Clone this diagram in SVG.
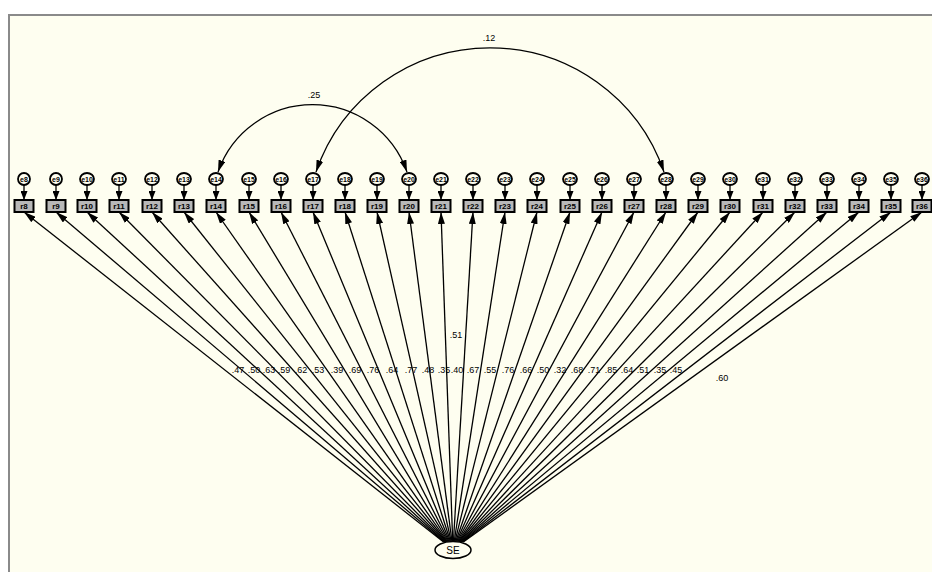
<svg xmlns="http://www.w3.org/2000/svg" width="932" height="572" viewBox="0 0 932 572">
<style>
.bg{fill:#fefef0}
.frame{stroke:#8a8a8a;stroke-width:2;fill:none}
.path{stroke:#000;stroke-width:1.3;fill:none}
.err{fill:#fefef0;stroke:#000;stroke-width:1.8}
.box{fill:#b8b8b8;stroke:#000;stroke-width:2}
.lat{fill:#fefef0;stroke:#000;stroke-width:1.5}
.t{font-family:"Liberation Sans",Arial,sans-serif;fill:#000;text-anchor:middle}
.bl{font-size:8px;font-weight:bold}
.el{font-size:7px;font-weight:bold}
.lb{font-size:9px}
</style>
<defs>
<marker id="ah" viewBox="0 0 12 7" refX="12" refY="3.5" markerWidth="12" markerHeight="7" markerUnits="userSpaceOnUse" orient="auto-start-reverse">
<path d="M0,0 L12,3.5 L0,7 z" fill="#000"/>
</marker>
<marker id="ahs" viewBox="0 0 9 7" refX="9" refY="3.5" markerWidth="9" markerHeight="7" markerUnits="userSpaceOnUse" orient="auto">
<path d="M0,0 L9,3.5 L0,7 z" fill="#000"/>
</marker>
</defs>
<rect x="0" y="0" width="932" height="572" fill="#ffffff"/>
<rect class="bg" x="9" y="15" width="923" height="557"/>
<path class="frame" d="M9,572 V15 H932"/>

<g id="connectors">
<path class="path" marker-end="url(#ah)" d="M443.6,542 L24,212"/>
<path class="path" marker-end="url(#ah)" d="M444.2,542 L56,212"/>
<path class="path" marker-end="url(#ah)" d="M444.9,542 L87,212"/>
<path class="path" marker-end="url(#ah)" d="M445.6,542 L119,212"/>
<path class="path" marker-end="url(#ah)" d="M446.4,542 L152,212"/>
<path class="path" marker-end="url(#ah)" d="M447.1,542 L184,212"/>
<path class="path" marker-end="url(#ah)" d="M447.8,542 L216,212"/>
<path class="path" marker-end="url(#ah)" d="M448.5,542 L249,212"/>
<path class="path" marker-end="url(#ah)" d="M449.2,542 L281,212"/>
<path class="path" marker-end="url(#ah)" d="M449.9,542 L313,212"/>
<path class="path" marker-end="url(#ah)" d="M450.6,542 L345,212"/>
<path class="path" marker-end="url(#ah)" d="M451.3,542 L377,212"/>
<path class="path" marker-end="url(#ah)" d="M452.0,542 L409,212"/>
<path class="path" marker-end="url(#ah)" d="M452.7,542 L441,212"/>
<path class="path" marker-end="url(#ah)" d="M453.4,542 L473,212"/>
<path class="path" marker-end="url(#ah)" d="M454.1,542 L505,212"/>
<path class="path" marker-end="url(#ah)" d="M454.8,542 L537,212"/>
<path class="path" marker-end="url(#ah)" d="M455.6,542 L570,212"/>
<path class="path" marker-end="url(#ah)" d="M456.3,542 L602,212"/>
<path class="path" marker-end="url(#ah)" d="M457.0,542 L634,212"/>
<path class="path" marker-end="url(#ah)" d="M457.7,542 L666,212"/>
<path class="path" marker-end="url(#ah)" d="M458.4,542 L698,212"/>
<path class="path" marker-end="url(#ah)" d="M459.1,542 L730,212"/>
<path class="path" marker-end="url(#ah)" d="M459.9,542 L763,212"/>
<path class="path" marker-end="url(#ah)" d="M460.6,542 L795,212"/>
<path class="path" marker-end="url(#ah)" d="M461.3,542 L827,212"/>
<path class="path" marker-end="url(#ah)" d="M462.0,542 L859,212"/>
<path class="path" marker-end="url(#ah)" d="M462.7,542 L891,212"/>
<path class="path" marker-end="url(#ah)" d="M463.3,542 L922,212"/>
<g class="path" marker-end="url(#ahs)" stroke-width="2.2">
<path d="M24,185 V200"/><path d="M56,185 V200"/><path d="M87,185 V200"/><path d="M119,185 V200"/>
<path d="M152,185 V200"/><path d="M184,185 V200"/><path d="M216,185 V200"/><path d="M249,185 V200"/>
<path d="M281,185 V200"/><path d="M313,185 V200"/><path d="M345,185 V200"/><path d="M377,185 V200"/>
<path d="M409,185 V200"/><path d="M441,185 V200"/><path d="M473,185 V200"/><path d="M505,185 V200"/>
<path d="M537,185 V200"/><path d="M570,185 V200"/><path d="M602,185 V200"/><path d="M634,185 V200"/>
<path d="M666,185 V200"/><path d="M698,185 V200"/><path d="M730,185 V200"/><path d="M763,185 V200"/>
<path d="M795,185 V200"/><path d="M827,185 V200"/><path d="M859,185 V200"/><path d="M891,185 V200"/>
<path d="M922,185 V200"/>
</g>
<path class="path" marker-start="url(#ah)" marker-end="url(#ah)" d="M218,172 A100,100 0 0 1 407,172"/>
<path class="path" marker-start="url(#ah)" marker-end="url(#ah)" d="M316,172 A184,184 0 0 1 664,172"/>
<text class="t lb" x="314" y="98">.25</text>
<text class="t lb" x="489" y="41">.12</text>
<g class="t lb">
<text x="238" y="373">.47</text><text x="254" y="373">.50</text><text x="269" y="373">.63</text>
<text x="284" y="373">.59</text><text x="301" y="373">.62</text><text x="318" y="373">.53</text>
<text x="337" y="373">.39</text><text x="355" y="373">.69</text><text x="373" y="373">.76</text>
<text x="392" y="373">.64</text><text x="411" y="373">.77</text><text x="428" y="373">.48</text>
<text x="444" y="373">.35</text><text x="457" y="373">.40</text><text x="473" y="373">.67</text>
<text x="490" y="373">.55</text><text x="508" y="373">.76</text><text x="526" y="373">.66</text>
<text x="543" y="373">.50</text><text x="560" y="373">.32</text><text x="577" y="373">.68</text>
<text x="594" y="373">.71</text><text x="611" y="373">.85</text><text x="627" y="373">.64</text>
<text x="643" y="373">.51</text><text x="660" y="373">.35</text><text x="676" y="373">.45</text>
<text x="456" y="338">.51</text>
<text x="722" y="381">.60</text>
</g>
</g>

<g id="SE"><ellipse class="lat" cx="453" cy="550" rx="18" ry="8.5"/><text class="t" font-size="10" x="453" y="554">SE</text></g>

<g id="n8"><ellipse class="err" cx="24" cy="179" rx="6" ry="6"/><text class="t el" x="24" y="181.5">e8</text><rect class="box" x="14.5" y="200" width="19" height="12"/><text class="t bl" x="24" y="209">r8</text></g>
<g id="n9"><ellipse class="err" cx="56" cy="179" rx="6" ry="6"/><text class="t el" x="56" y="181.5">e9</text><rect class="box" x="46.5" y="200" width="19" height="12"/><text class="t bl" x="56" y="209">r9</text></g>
<g id="n10"><ellipse class="err" cx="87" cy="179" rx="7" ry="6"/><text class="t el" x="87" y="181.5">e10</text><rect class="box" x="77.5" y="200" width="19" height="12"/><text class="t bl" x="87" y="209">r10</text></g>
<g id="n11"><ellipse class="err" cx="119" cy="179" rx="7" ry="6"/><text class="t el" x="119" y="181.5">e11</text><rect class="box" x="109.5" y="200" width="19" height="12"/><text class="t bl" x="119" y="209">r11</text></g>
<g id="n12"><ellipse class="err" cx="152" cy="179" rx="7" ry="6"/><text class="t el" x="152" y="181.5">e12</text><rect class="box" x="142.5" y="200" width="19" height="12"/><text class="t bl" x="152" y="209">r12</text></g>
<g id="n13"><ellipse class="err" cx="184" cy="179" rx="7" ry="6"/><text class="t el" x="184" y="181.5">e13</text><rect class="box" x="174.5" y="200" width="19" height="12"/><text class="t bl" x="184" y="209">r13</text></g>
<g id="n14"><ellipse class="err" cx="216" cy="179" rx="7" ry="6"/><text class="t el" x="216" y="181.5">e14</text><rect class="box" x="206.5" y="200" width="19" height="12"/><text class="t bl" x="216" y="209">r14</text></g>
<g id="n15"><ellipse class="err" cx="249" cy="179" rx="7" ry="6"/><text class="t el" x="249" y="181.5">e15</text><rect class="box" x="239.5" y="200" width="19" height="12"/><text class="t bl" x="249" y="209">r15</text></g>
<g id="n16"><ellipse class="err" cx="281" cy="179" rx="7" ry="6"/><text class="t el" x="281" y="181.5">e16</text><rect class="box" x="271.5" y="200" width="19" height="12"/><text class="t bl" x="281" y="209">r16</text></g>
<g id="n17"><ellipse class="err" cx="313" cy="179" rx="7" ry="6"/><text class="t el" x="313" y="181.5">e17</text><rect class="box" x="303.5" y="200" width="19" height="12"/><text class="t bl" x="313" y="209">r17</text></g>
<g id="n18"><ellipse class="err" cx="345" cy="179" rx="7" ry="6"/><text class="t el" x="345" y="181.5">e18</text><rect class="box" x="335.5" y="200" width="19" height="12"/><text class="t bl" x="345" y="209">r18</text></g>
<g id="n19"><ellipse class="err" cx="377" cy="179" rx="7" ry="6"/><text class="t el" x="377" y="181.5">e19</text><rect class="box" x="367.5" y="200" width="19" height="12"/><text class="t bl" x="377" y="209">r19</text></g>
<g id="n20"><ellipse class="err" cx="409" cy="179" rx="7" ry="6"/><text class="t el" x="409" y="181.5">e20</text><rect class="box" x="399.5" y="200" width="19" height="12"/><text class="t bl" x="409" y="209">r20</text></g>
<g id="n21"><ellipse class="err" cx="441" cy="179" rx="7" ry="6"/><text class="t el" x="441" y="181.5">e21</text><rect class="box" x="431.5" y="200" width="19" height="12"/><text class="t bl" x="441" y="209">r21</text></g>
<g id="n22"><ellipse class="err" cx="473" cy="179" rx="7" ry="6"/><text class="t el" x="473" y="181.5">e22</text><rect class="box" x="463.5" y="200" width="19" height="12"/><text class="t bl" x="473" y="209">r22</text></g>
<g id="n23"><ellipse class="err" cx="505" cy="179" rx="7" ry="6"/><text class="t el" x="505" y="181.5">e23</text><rect class="box" x="495.5" y="200" width="19" height="12"/><text class="t bl" x="505" y="209">r23</text></g>
<g id="n24"><ellipse class="err" cx="537" cy="179" rx="7" ry="6"/><text class="t el" x="537" y="181.5">e24</text><rect class="box" x="527.5" y="200" width="19" height="12"/><text class="t bl" x="537" y="209">r24</text></g>
<g id="n25"><ellipse class="err" cx="570" cy="179" rx="7" ry="6"/><text class="t el" x="570" y="181.5">e25</text><rect class="box" x="560.5" y="200" width="19" height="12"/><text class="t bl" x="570" y="209">r25</text></g>
<g id="n26"><ellipse class="err" cx="602" cy="179" rx="7" ry="6"/><text class="t el" x="602" y="181.5">e26</text><rect class="box" x="592.5" y="200" width="19" height="12"/><text class="t bl" x="602" y="209">r26</text></g>
<g id="n27"><ellipse class="err" cx="634" cy="179" rx="7" ry="6"/><text class="t el" x="634" y="181.5">e27</text><rect class="box" x="624.5" y="200" width="19" height="12"/><text class="t bl" x="634" y="209">r27</text></g>
<g id="n28"><ellipse class="err" cx="666" cy="179" rx="7" ry="6"/><text class="t el" x="666" y="181.5">e28</text><rect class="box" x="656.5" y="200" width="19" height="12"/><text class="t bl" x="666" y="209">r28</text></g>
<g id="n29"><ellipse class="err" cx="698" cy="179" rx="7" ry="6"/><text class="t el" x="698" y="181.5">e29</text><rect class="box" x="688.5" y="200" width="19" height="12"/><text class="t bl" x="698" y="209">r29</text></g>
<g id="n30"><ellipse class="err" cx="730" cy="179" rx="7" ry="6"/><text class="t el" x="730" y="181.5">e30</text><rect class="box" x="720.5" y="200" width="19" height="12"/><text class="t bl" x="730" y="209">r30</text></g>
<g id="n31"><ellipse class="err" cx="763" cy="179" rx="7" ry="6"/><text class="t el" x="763" y="181.5">e31</text><rect class="box" x="753.5" y="200" width="19" height="12"/><text class="t bl" x="763" y="209">r31</text></g>
<g id="n32"><ellipse class="err" cx="795" cy="179" rx="7" ry="6"/><text class="t el" x="795" y="181.5">e32</text><rect class="box" x="785.5" y="200" width="19" height="12"/><text class="t bl" x="795" y="209">r32</text></g>
<g id="n33"><ellipse class="err" cx="827" cy="179" rx="7" ry="6"/><text class="t el" x="827" y="181.5">e33</text><rect class="box" x="817.5" y="200" width="19" height="12"/><text class="t bl" x="827" y="209">r33</text></g>
<g id="n34"><ellipse class="err" cx="859" cy="179" rx="7" ry="6"/><text class="t el" x="859" y="181.5">e34</text><rect class="box" x="849.5" y="200" width="19" height="12"/><text class="t bl" x="859" y="209">r34</text></g>
<g id="n35"><ellipse class="err" cx="891" cy="179" rx="7" ry="6"/><text class="t el" x="891" y="181.5">e35</text><rect class="box" x="881.5" y="200" width="19" height="12"/><text class="t bl" x="891" y="209">r35</text></g>
<g id="n36"><ellipse class="err" cx="922" cy="179" rx="7" ry="6"/><text class="t el" x="922" y="181.5">e36</text><rect class="box" x="912.5" y="200" width="19" height="12"/><text class="t bl" x="922" y="209">r36</text></g>
</svg>
